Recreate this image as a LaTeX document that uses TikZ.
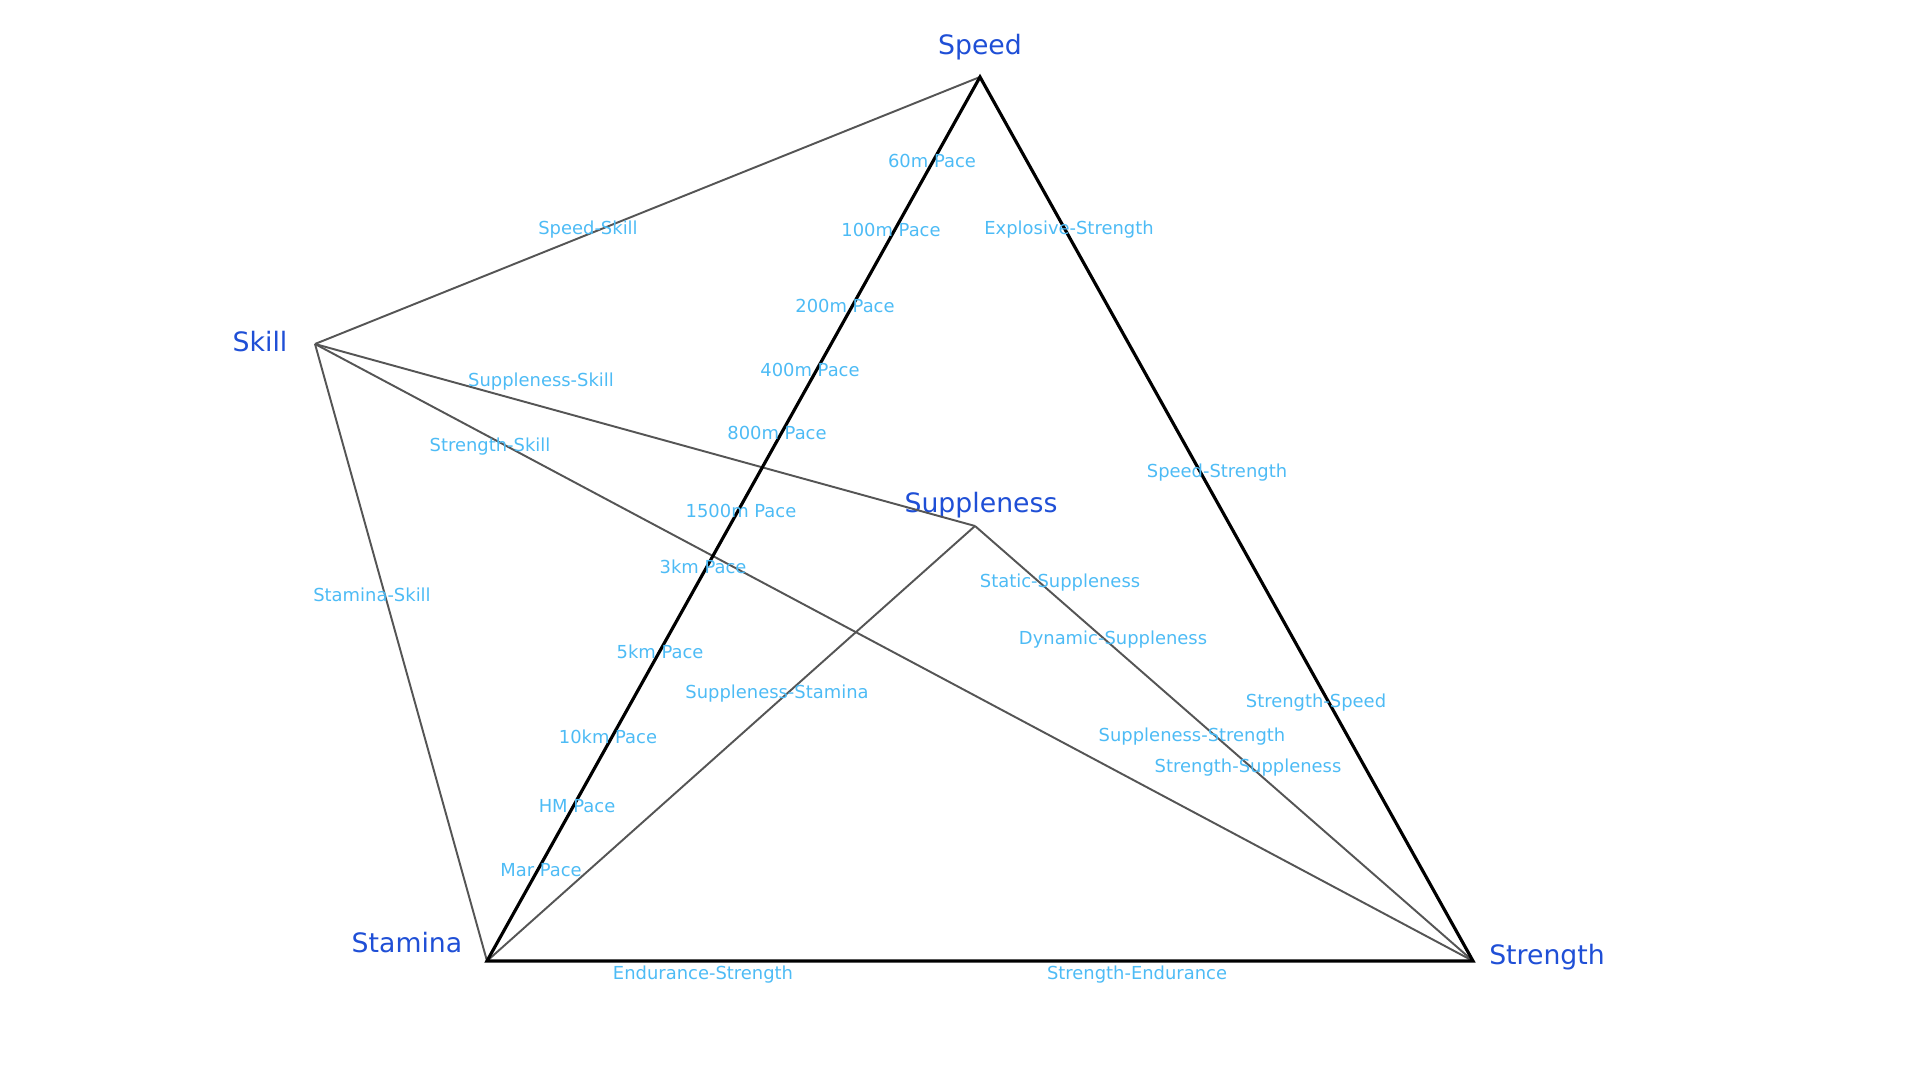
\documentclass[tikz,border=0pt]{standalone}
\usepackage{fontspec}
\setmainfont{DejaVu Sans}
\usetikzlibrary{positioning}

\definecolor{cornerblue}{HTML}{1F4FD6}
\definecolor{paceblue}{HTML}{4DBBF5}
\definecolor{linkgray}{HTML}{555555}
\tikzset{
  corner/.style={text=cornerblue,font=\fontsize{7.6}{9}\selectfont},
  pace/.style={text=paceblue,font=\fontsize{5.1}{6}\selectfont},
  main/.style={line width=0.9pt,black,line join=miter},
  link/.style={line width=0.55pt,linkgray},
}

\begin{document}
\begin{tikzpicture}
  \useasboundingbox (0,0) rectangle (19.2,10.8);
  % corners of the tetrahedron
  \coordinate (speed) at (9.80,10.03);
  \coordinate (skill) at (3.15,7.36);
  \coordinate (supple) at (9.75,5.54);
  \coordinate (stamina) at (4.87,1.19);
  \coordinate (strength) at (14.73,1.19);
  \node[corner] (Nspeed) at (9.80,10.33) {Speed};
  \node[corner] (Nskill) at (2.60,7.38) {Skill};
  \node[corner] (Nsupple) at (9.81,5.75) {Suppleness};
  \node[corner] (Nstamina) at (4.07,1.37) {Stamina};
  \node[corner] (Nstrength) at (15.47,1.23) {Strength};
  % edges
  \draw[link] (skill) -- (speed);
  \draw[link] (skill) -- (supple);
  \draw[link] (skill) -- (strength);
  \draw[link] (skill) -- (stamina);
  \draw[link] (supple) -- (stamina);
  \draw[link] (supple) -- (strength);
  \draw[main] (speed) -- (stamina) -- (strength) -- cycle;
  % paces on Speed--Stamina
  \foreach \x/\y/\name in {9.32/9.19/60m,8.91/8.50/100m,8.45/7.74/200m,8.10/7.10/400m,
      7.77/6.47/800m,7.41/5.69/1500m,7.03/5.13/3km,6.60/4.28/5km,6.08/3.43/10km,
      5.77/2.74/HM,5.41/2.10/Mar}
    {\node[pace] (P\name) at (\x,\y) {\name{} Pace};}
  % other edge labels
  \foreach \x/\y/\txt [count=\i] in {10.69/8.50/Explosive-Strength,5.88/8.50/Speed-Skill,
      5.41/6.98/Suppleness-Skill,4.90/6.33/Strength-Skill,12.17/6.07/Speed-Strength,
      10.60/4.97/Static-Suppleness,3.72/4.85/Stamina-Skill,11.13/4.40/Dynamic-Suppleness,
      7.77/3.86/Suppleness-Stamina,13.16/3.77/Strength-Speed,11.92/3.43/Suppleness-Strength,
      12.48/3.12/Strength-Suppleness,7.03/1.05/Endurance-Strength,11.37/1.05/Strength-Endurance}
    {\node[pace] (L\i) at (\x,\y) {\txt};}
\end{tikzpicture}
\end{document}
